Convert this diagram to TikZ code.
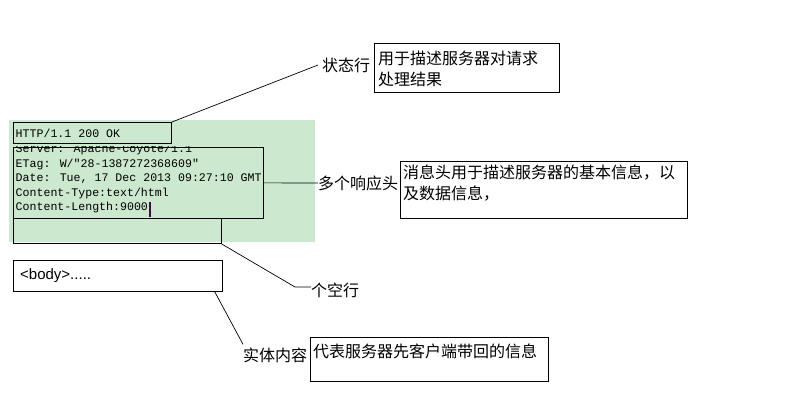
\documentclass[tikz,border=0pt]{standalone}
\usepackage{fontspec}
\setmainfont{Liberation Sans}
\newfontfamily\monofont{Liberation Mono}
\newfontfamily\cjk{Noto Sans CJK SC}
\definecolor{bggreen}{RGB}{204,232,207}
\definecolor{caret}{RGB}{60,16,60}

\begin{document}
\begin{tikzpicture}[x=1pt, y=-1pt,
    box/.style={draw, line width=1pt, inner sep=0pt, anchor=north west},
    mono/.style={font=\monofont\fontsize{11.6}{14.4}\selectfont, inner sep=0pt, anchor=base west},
    zh/.style={font=\cjk\fontsize{16}{21}\selectfont, inner sep=0pt, anchor=west},
    link/.style={line width=0.7pt}]

    % Page
    \useasboundingbox (0,0) rectangle (800,417);

    % Response block
    \fill[bggreen] (9,120) rectangle (315,242);
    \node[box, minimum width=158, minimum height=21] (status) at (13,122) {};
    \node[box, minimum width=250, minimum height=71.3] (headers) at (13,146.7) {};
    \node[box, minimum width=207.7, minimum height=25] (blank) at (13,218) {};
    \node[box, minimum width=208.7, minimum height=30.7] (body) at (13,260) {};

    % Status line and headers
    \node[mono] (statustxt) at (15.5,138) {HTTP/1.1 200 OK};
    \begin{scope}
        \clip (headers.north west) rectangle (headers.south east);
        \foreach \line [count=\i] in {Server: Apache-Coyote/1.1, ETag: W/"28-1387272368609",
            {Date: Tue, 17 Dec 2013 09:27:10 GMT}, Content-Type:text/html, Content-Length:9000}
            \node[mono] (hdr\i) at (15.5,{138.6+14.4*\i}) {\line};
    \end{scope}
    \draw[caret, line width=2pt] ([xshift=1.5pt, yshift=8.6pt]hdr5.base east) -- ++(0,15);  % Text cursor

    % Body
    \node[font=\fontsize{15}{18}\selectfont, inner sep=0pt, anchor=west] (bodytxt) at (20,276) {<body>.....};

    % Labels
    \node[zh] (statuslbl) at (322,65) {状态行};
    \node[zh] (headerlbl) at (318,183) {多个响应头};
    \node[zh] (blanklbl) at (311,290) {个空行};
    \node[zh] (bodylbl) at (243,355) {实体内容};

    % Notes
    \node[box, minimum width=185, minimum height=49] (statusnote) at (374,43) {};
    \node[zh] (statusnote1) at (378,58) {用于描述服务器对请求};
    \node[zh] (statusnote2) at (378,79) {处理结果};

    \node[box, minimum width=287, minimum height=57] (headernote) at (400,161) {};
    \node[zh] (headernote1) at (403,173) {消息头用于描述服务器的基本信息，以};
    \node[zh] (headernote2) at (403,194) {及数据信息，};

    \node[box, minimum width=238, minimum height=44] (bodynote) at (310,337) {};
    \node[zh] (bodynote1) at (313,351) {代表服务器先客户端带回的信息};

    % Leader lines
    \draw[link] (status.north east) -- ([xshift=-4pt]statuslbl.west);
    \draw[link] (headers.east) -- (headerlbl.west);
    \coordinate (blankbend) at (295,287);
    \draw[link] (blank.south east) -- (blankbend) -- (blankbend -| blanklbl.west);
    \draw[link] ([xshift=-8pt]body.south east) -- ([yshift=3pt]bodylbl.north west);

\end{tikzpicture}
\end{document}
